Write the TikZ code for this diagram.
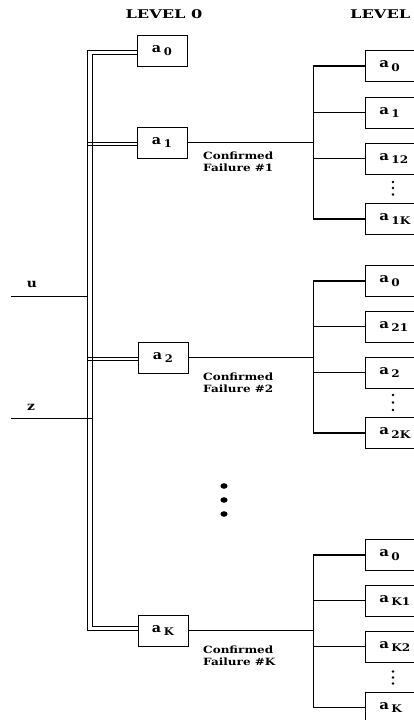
\documentclass[tikz,border=0pt]{standalone}
\usepackage{fontspec}
\setmainfont{DejaVu Serif}
\usetikzlibrary{calc}
\newcommand\subZ[1]{\scalebox{1.1}[1]{a\hspace{2.5pt}\raisebox{-3.5pt}{\fontsize{10.5}{11}\selectfont\bfseries #1}}}
\newcommand\subO[1]{\scalebox{1.15}[1]{a\hspace{2pt}\raisebox{-3.5pt}{\fontsize{10.5}{11}\selectfont\bfseries #1}}}
\newcommand\widen[2]{\scalebox{#1}[1]{#2}}
\begin{document}
\begin{tikzpicture}[x=1pt,y=-1pt,
  wire/.style={line width=1.1pt},
  thin wire/.style={line width=0.9pt},
  boxz/.style={draw, line width=0.9pt, minimum width=50pt, minimum height=31pt, inner sep=0pt,
    font=\fontsize{13}{14}\selectfont\bfseries},
  boxo/.style={draw, line width=0.9pt, anchor=west, minimum height=31pt, inner ysep=0pt,
    inner xsep=14pt, text width=40pt, align=left, font=\fontsize{13}{14}\selectfont\bfseries},
  capt/.style={font=\fontsize{10}{12}\selectfont\bfseries, align=left, anchor=north west, inner sep=0pt},
  head/.style={font=\fontsize{12}{13}\selectfont\bfseries, inner sep=0pt},
  sym/.style={font=\fontsize{12}{13}\selectfont\bfseries, inner sep=0pt, anchor=base}]
\useasboundingbox (0,0) rectangle (414,720);
\clip (0,0) rectangle (414,720);

% headings
\node[head, anchor=base] (h0) at (164,18.5) {\widen{1.35}{LEVEL 0}};
\node[head, anchor=base west] (h1) at (350,18.5) {\widen{1.35}{LEVEL}};

% level 0 boxes
\node[boxz] (a0) at (162,50.5) {\subZ{0}};
\node[boxz] (a1) at (162,142.5) {\subZ{1}};
\node[boxz] (a2) at (163,357.5) {\subZ{2}};
\node[boxz] (aK) at (163,630.5) {\subZ{K}};

% bus coordinates
\coordinate (bo) at (87,0);
\coordinate (bi) at (92,0);
\coordinate (b1) at (313.5,0);
\coordinate (a0i) at ([yshift=-4pt]a0.west);
\coordinate (aKi) at ([yshift=4pt]aK.west);
\coordinate (a1i) at ([yshift=-2.5pt]a1.west);
\coordinate (a2i) at ([yshift=-2.5pt]a2.west);

% double bus
\draw[thin wire] (a0.west) -| (bo |- aK.west) -- (aK.west);
\draw[thin wire] (a0i) -| (bi |- aKi) -- (aKi);
\draw[thin wire] (bo |- a1.west) -- (a1.west);
\draw[thin wire] (bo |- a1i) -- (a1i);
\draw[thin wire] (bo |- a2.west) -- (a2.west);
\draw[thin wire] (bo |- a2i) -- (a2i);

% inputs
\node[sym] (u) at (32,287) {\widen{1.15}{u}};
\node[sym] (z) at (31,410) {\widen{1.15}{z}};
\coordinate (uL) at (11,296);
\coordinate (zL) at (11,418);
\draw[thin wire] (uL) -- (uL -| bo);
\draw[thin wire] (zL) -- (zL -| bi);

% level 1 boxes
\node[boxo] (g1a) at (365,66) {\subO{0}};
\node[boxo] (g1b) at (365,112.5) {\subO{1}};
\node[boxo] (g1c) at (365,158.5) {\subO{12}};
\node[boxo] (g1d) at (365,219) {\subO{1K}};
\node[boxo] (g2a) at (365,281) {\subO{0}};
\node[boxo] (g2b) at (365,326.5) {\subO{21}};
\node[boxo] (g2c) at (365,372.5) {\subO{2}};
\node[boxo] (g2d) at (365,433) {\subO{2K}};
\node[boxo] (g3a) at (365,555) {\subO{0}};
\node[boxo] (g3b) at (365,600.5) {\subO{K1}};
\node[boxo] (g3c) at (365,646.5) {\subO{K2}};
\node[boxo] (g3d) at (365,707.5) {\subO{K}};

% level 0 -> level 1 connectors
\draw[wire] (a1.east) -- (a1.east -| b1);
\draw[wire] (a2.east) -- (a2.east -| b1);
\draw[wire] (aK.east) -- (aK.east -| b1);
\foreach \g in {g1,g2,g3}{
  \draw[wire] (\g a.west) -| (b1 |- \g d.west) -- (\g d.west);
  \draw[wire] (b1 |- \g b.west) -- (\g b.west);
  \draw[wire] (b1 |- \g c.west) -- (\g c.west);
}

% captions
\node[capt] (c1) at (203,152) {\widen{1.2}{Confirmed}\\\widen{1.2}{Failure \#1}};
\node[capt] (c2) at (203,372.5) {\widen{1.2}{Confirmed}\\\widen{1.2}{Failure \#2}};
\node[capt] (c3) at (203,646) {\widen{1.2}{Confirmed}\\\widen{1.2}{Failure \#K}};

% small dots
\foreach \y in {182,188,194.5,395,402.5,410,671.5,677.5,683.5}
  \fill (393,\y) circle (1.3pt);
% big dots
\foreach \y in {486,500,514}
  \fill (224,\y) ellipse (3.6pt and 2.8pt);
\end{tikzpicture}
\end{document}
